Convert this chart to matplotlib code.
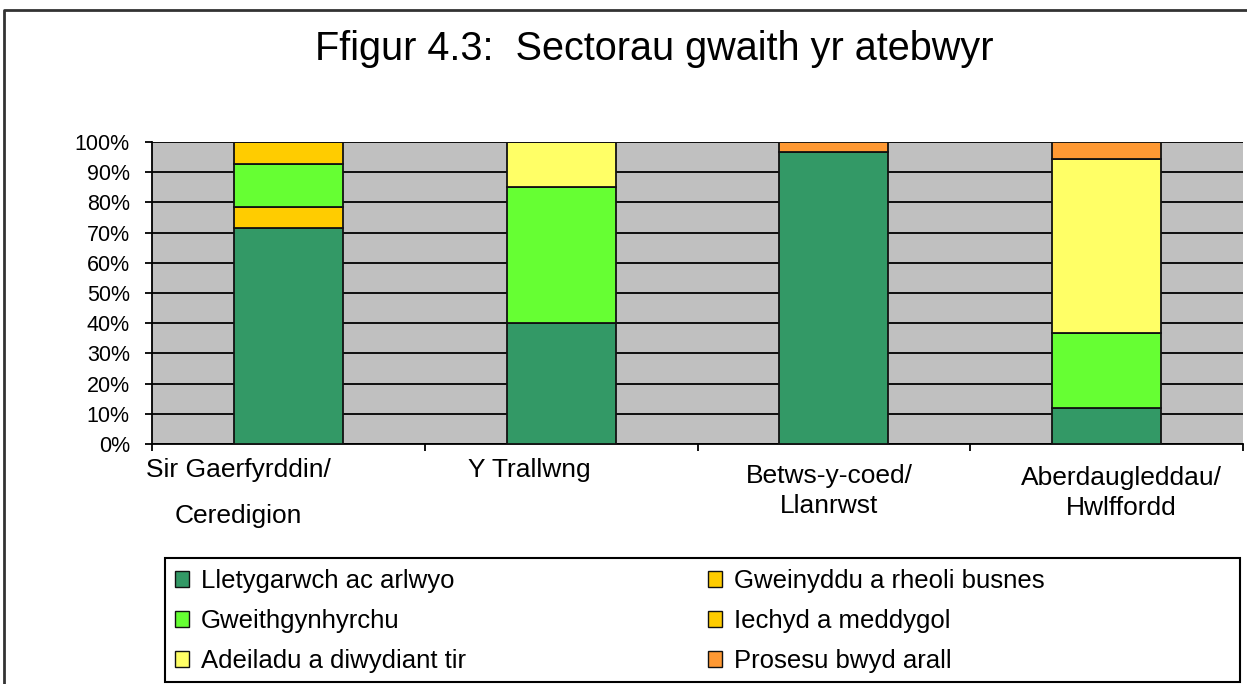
import matplotlib
matplotlib.use("Agg")
import matplotlib.pyplot as plt
from matplotlib.lines import Line2D
from matplotlib.patches import Patch, Rectangle
import matplotlib.transforms as mtransforms
import numpy as np

plt.rcParams['font.family'] = ['Liberation Sans', 'DejaVu Sans']

title = "Ffigur 4.3:  Sectorau gwaith yr atebwyr"
categories = ["Sir Gaerfyrddin/\nCeredigion", "Y Trallwng", "Betws-y-coed/\nLlanrwst", "Aberdaugleddau/\nHwlffordd"]

# stacking order (bottom to top)
series_names = ["Lletygarwch ac arlwyo", "Gweinyddu a rheoli busnes", "Gweithgynhyrchu",
                "Iechyd a meddygol", "Adeiladu a diwydiant tir", "Prosesu bwyd arall"]
lletygarwch = [71.4, 40.0, 96.8, 12.0]
gweinyddu = [7.1, 0.0, 0.0, 0.0]
gweithgynhyrchu = [14.3, 45.0, 0.0, 24.9]
iechyd = [7.2, 0.0, 0.0, 0.0]
adeiladu = [0.0, 15.0, 0.0, 57.5]
prosesu = [0.0, 0.0, 3.2, 5.6]
series_values = [lletygarwch, gweinyddu, gweithgynhyrchu, iechyd, adeiladu, prosesu]
colors = ["#339966", "#FFCC00", "#66FF33", "#FFCC00", "#FFFF66", "#FF9933"]

yticks = [0, 10, 20, 30, 40, 50, 60, 70, 80, 90, 100]
ytick_labels = ["0%", "10%", "20%", "30%", "40%", "50%", "60%", "70%", "80%", "90%", "100%"]

W, H = 1247, 684
fig = plt.figure(figsize=(W / 100, H / 100), dpi=100)
fig.patch.set_facecolor("white")

ax = fig.add_axes([152 / W, 1 - 444 / H, (1243 - 152) / W, (444 - 142) / H])
ax.set_facecolor("#C0C0C0")

x = np.arange(len(categories))
bottom = np.zeros(len(categories))
for name, vals, c in zip(series_names, series_values, colors):
    v = np.array(vals)
    ax.bar(x, v, width=0.4, bottom=bottom, color=c, edgecolor="#111111", linewidth=1.3, zorder=3)
    bottom += v

ax.set_xlim(-0.5, len(categories) - 0.5)
ax.set_ylim(0, 100)
ax.set_yticks(yticks)
ax.set_yticklabels(ytick_labels, fontsize=15.5)
ax.yaxis.grid(True, color="black", linewidth=1.3, zorder=1)
ax.set_axisbelow(True)
ax.tick_params(axis="y", direction="out", length=5, width=1.3, pad=11, colors="black")

ax.set_xticks(np.arange(-0.5, len(categories), 1.0))
ax.set_xticklabels([])
ax.tick_params(axis="x", direction="out", length=5, width=1.3)

for s in ["top", "right"]:
    ax.spines[s].set_visible(False)
for s in ["left", "bottom"]:
    ax.spines[s].set_color("black")
    ax.spines[s].set_linewidth(1.3)

# category labels: (x offset px, line y px)
label_layout = [(-50, (470, 516)), (-32, (470,)), (-5, (476, 506)), (15, (478, 508))]
blend = mtransforms.blended_transform_factory(ax.transData, fig.transFigure)
for i, (cat, (dx, rows)) in enumerate(zip(categories, label_layout)):
    off = mtransforms.ScaledTranslation(dx / 100, 0, fig.dpi_scale_trans)
    for line, ypix in zip(cat.split("\n"), rows):
        ax.text(i, 1 - ypix / H, line, transform=blend + off,
                ha="center", va="center", fontsize=19)

fig.text(654 / W, 1 - 49 / H, title, ha="center", va="center", fontsize=28.5)

# outer chart frame
fig.add_artist(Line2D([4 / W, 4 / W, 1.0], [0.0, 1 - 10 / H, 1 - 10 / H],
                      transform=fig.transFigure, color="#333333", linewidth=2.0))

# legend box
fig.add_artist(Rectangle((165 / W, 1 - 682 / H), (1240 - 165) / W, (682 - 558) / H,
                         transform=fig.transFigure, facecolor="white", edgecolor="black",
                         linewidth=1.5, zorder=1))

handles = [Patch(facecolor=c, edgecolor="#111111", linewidth=1.0) for c in colors]
col1 = [0, 2, 4]
col2 = [1, 3, 5]
for idx, xl in ((col1, 175), (col2, 708)):
    lg = fig.legend([handles[k] for k in idx], [series_names[k] for k in idx],
                    loc="upper left", bbox_to_anchor=(xl / W, 1 - 569 / H),
                    ncol=1, fontsize=18.5, frameon=False,
                    borderaxespad=0, handlelength=0.55, handleheight=0.55, handletextpad=0.45,
                    labelspacing=0.62, borderpad=0.0)
    lg.set_zorder(2)

fig.savefig("out.png", dpi=100)
